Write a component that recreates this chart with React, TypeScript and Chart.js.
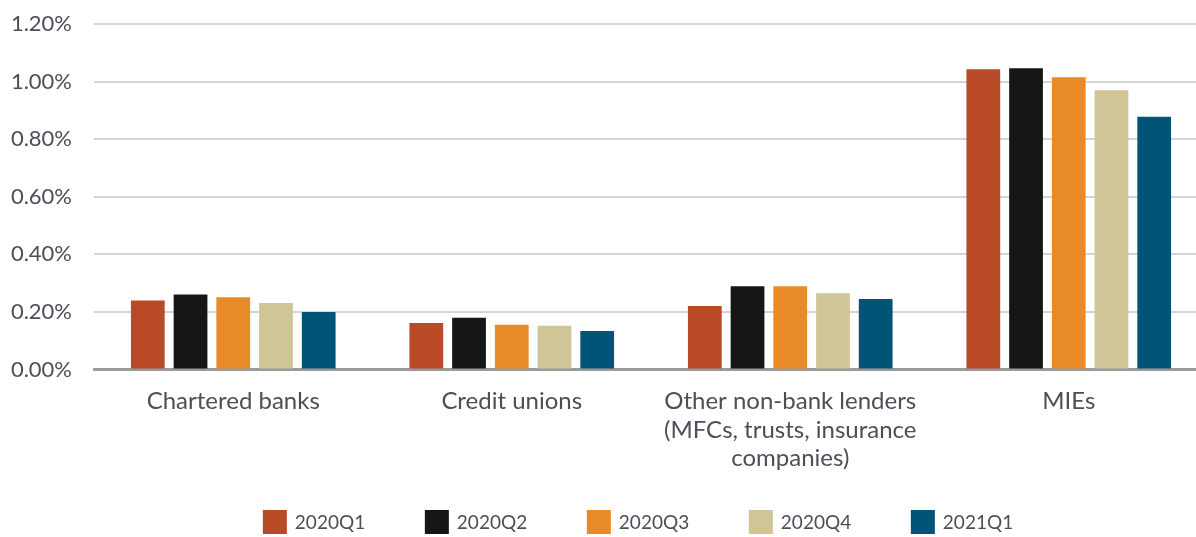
import React, { useEffect, useRef } from "react";
import { Chart, registerables } from "chart.js";

Chart.register(...registerables);

const categories: (string | string[])[] = [
  "Chartered banks",
  "Credit unions",
  ["Other non-bank lenders", "(MFCs, trusts, insurance", "companies)"],
  "MIEs",
];
const seriesLabels = ["2020Q1", "2020Q2", "2020Q3", "2020Q4", "2021Q1"];
const seriesColors = ["#b84a26", "#161616", "#e88b26", "#cfc596", "#005475"];
const q1_2020 = [0.24, 0.162, 0.221, 1.043];
const q2_2020 = [0.261, 0.18, 0.289, 1.046];
const q3_2020 = [0.251, 0.156, 0.289, 1.015];
const q4_2020 = [0.231, 0.152, 0.265, 0.97];
const q1_2021 = [0.2, 0.134, 0.245, 0.878];
const seriesValues = [q1_2020, q2_2020, q3_2020, q4_2020, q1_2021];
const yTickMax = 1.2;
const yTickStep = 0.2;

const FONT = "Lato";
const TEXT = "#4b4f58";

const bottomLegend = {
  id: "bottomLegend",
  afterDraw(chart: any) {
    const ctx = chart.ctx;
    const ds = chart.data.datasets;
    const box = 24;
    const gap = 8;
    const step = 162;
    ctx.save();
    ctx.font = `19px ${FONT}`;
    const lastW = box + gap + ctx.measureText(ds[ds.length - 1].label).width;
    const total = (ds.length - 1) * step + lastW;
    const center = 638;
    let x = center - total / 2;
    const yTop = 510;
    ds.forEach((d: any) => {
      ctx.fillStyle = d.backgroundColor;
      ctx.fillRect(x, yTop, box, box);
      ctx.fillStyle = TEXT;
      ctx.textBaseline = "middle";
      ctx.textAlign = "left";
      ctx.fillText(d.label, x + box + gap, yTop + box / 2 + 1);
      x += step;
    });
    ctx.restore();
  },
};

export default function App() {
  const ref = useRef<HTMLCanvasElement>(null);
  useEffect(() => {
    if (!ref.current) return;
    const chart = new Chart(ref.current, {
      type: "bar",
      data: {
        labels: categories,
        datasets: seriesLabels.map((l, i) => ({
          label: l,
          data: seriesValues[i],
          backgroundColor: seriesColors[i],
          borderWidth: 0,
          categoryPercentage: 0.767,
          barPercentage: 0.79,
        })),
      },
      options: {
        animation: false,
        responsive: true,
        maintainAspectRatio: false,
        layout: { padding: { left: 6, right: 0, top: 24, bottom: 47 } },
        plugins: {
          legend: { display: false },
          tooltip: { enabled: false },
        },
        scales: {
          x: {
            grid: { display: false, drawTicks: false },
            border: { display: true, color: "#9b9b9b", width: 3 },
            ticks: {
              color: TEXT,
              font: { family: FONT, size: 24, lineHeight: 1.2 },
              padding: 17,
              maxRotation: 0,
              autoSkip: false,
            },
          },
          y: {
            min: 0,
            max: yTickMax,
            afterFit: (s: any) => {
              s.width = 88;
              s.paddingTop = 0;
              s.paddingBottom = 0;
            },
            grid: { color: "#d4d4d4", lineWidth: 2, drawTicks: false },
            border: { display: false },
            ticks: {
              stepSize: yTickStep,
              color: TEXT,
              padding: 22,
              font: { family: FONT, size: 22 },
              callback: (v: any) => Number(v).toFixed(2) + "%",
            },
          },
        },
      },
      plugins: [bottomLegend],
    });
    return () => chart.destroy();
  }, []);
  return (
    <div style={{ position: "absolute", left: 0, top: 0, width: 1196, height: 537, overflow: "hidden", background: "#fff" }}>
      <div style={{ position: "relative", width: 1208, height: 537 }}>
        <canvas ref={ref} />
      </div>
    </div>
  );
}
